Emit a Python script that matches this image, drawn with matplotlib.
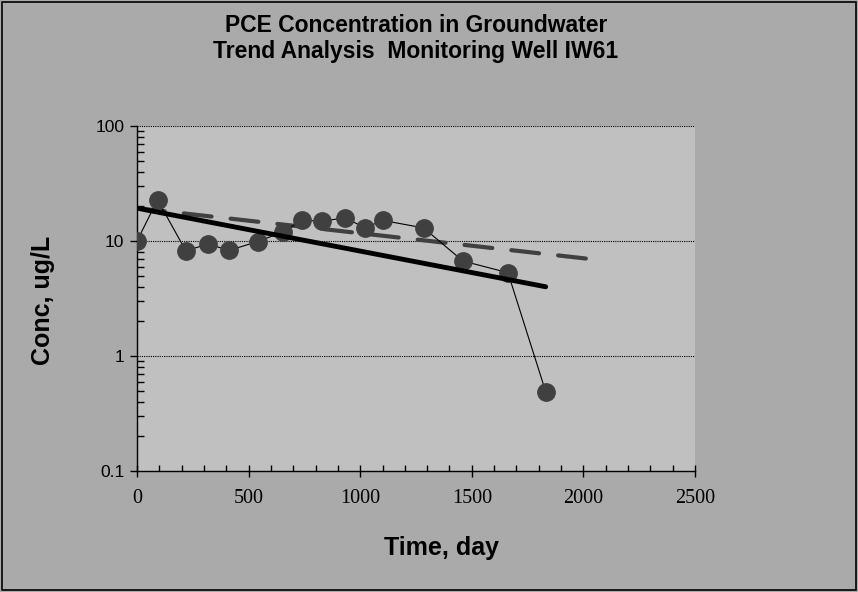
import numpy as np
import matplotlib
matplotlib.use("Agg")
import matplotlib.pyplot as plt
from matplotlib.ticker import FixedLocator, LogLocator, MultipleLocator, NullFormatter
from matplotlib.patches import Rectangle

# datos
dias = [0, 92, 219, 316, 414, 541, 655, 738, 830, 934, 1021, 1101, 1284, 1460, 1662, 1831]
conc = [10.0, 22.8, 8.2, 9.4, 8.3, 9.9, 12.0, 15.1, 14.9, 15.9, 13.0, 15.1, 13.0, 6.7, 5.3, 0.49]

# lineas de tendencia (extremos)
tend1_x = [0, 1831]
tend1_y = [19.3, 4.0]
tend2_x = [0, 2080]
tend2_y = [19.3, 6.8]

y_ticks = [0.1, 1, 10, 100]
y_labels = ["0.1", "1", "10", "100"]

fondo = "#aaaaaa"
area = "#c0c0c0"
W, H = 858, 592

fig = plt.figure(figsize=(W / 100, H / 100), dpi=100, facecolor=fondo)
ax = fig.add_axes([137/W, 1 - 471/H, (695 - 137)/W, (471 - 126)/H])
ax.set_facecolor(area)

# borde negro de la figura
fig.patches.append(Rectangle((2/W, 2/H), (W - 4)/W, (H - 4)/H, transform=fig.transFigure,
                             fill=False, edgecolor="black", linewidth=1.2))

ax.set_yscale("log")
ax.set_xlim(0, 2500)
ax.set_ylim(0.1, 100)

for v in [1, 10, 100]:
    ax.axhline(v, color="black", linestyle=(0, (1, 1)), linewidth=0.8, zorder=1)

ax.plot(dias, conc, color="black", linewidth=0.8, zorder=3)
ax.plot(dias, conc, linestyle="none", marker="o", markersize=12.5,
        markerfacecolor="#404040", markeredgecolor="#404040", zorder=4)
ax.plot(tend1_x, tend1_y, color="black", linewidth=3.5, solid_capstyle="round", zorder=5)
ax.plot(tend2_x, tend2_y, color="#404040", linewidth=3.0, dashes=(6.7, 4.6),
        dash_capstyle="round", zorder=2)

for s in ["top", "right"]:
    ax.spines[s].set_visible(False)
ax.spines["left"].set_linewidth(1.0)
ax.spines["bottom"].set_linewidth(1.0)

ax.xaxis.set_major_locator(MultipleLocator(500))
ax.xaxis.set_minor_locator(MultipleLocator(100))
ax.yaxis.set_major_locator(FixedLocator(y_ticks))
ax.set_yticklabels(y_labels)
ax.yaxis.set_minor_locator(LogLocator(base=10, subs=np.arange(2, 10)))
ax.yaxis.set_minor_formatter(NullFormatter())

ax.tick_params(axis="x", which="major", direction="inout", length=8, width=1.0, pad=9)
ax.tick_params(axis="x", which="minor", direction="in", length=4, width=1.0)
ax.tick_params(axis="y", which="major", direction="out", length=5, width=1.0, pad=4)
ax.tick_params(axis="y", which="minor", direction="in", length=5, width=1.0)

for t in ax.get_xticklabels():
    t.set_fontfamily("Liberation Serif")
    t.set_fontsize(14.5)
for t in ax.get_yticklabels():
    t.set_fontfamily("Liberation Sans")
    t.set_fontsize(12.5)

cx = (137 + 695) / 2 / W
fig.text(cx, 1 - 32/H, "PCE Concentration in Groundwater", ha="center", va="baseline",
         fontfamily="Liberation Sans", fontweight="bold", fontsize=16.5)
fig.text(cx, 1 - 58/H, "Trend Analysis  Monitoring Well IW61", ha="center", va="baseline",
         fontfamily="Liberation Sans", fontweight="bold", fontsize=16.5)
fig.text(441/W, 1 - 555/H, "Time, day", ha="center", va="baseline",
         fontfamily="Liberation Sans", fontweight="bold", fontsize=18)
fig.text(50/W, 1 - 300/H, "Conc, ug/L", ha="center", va="baseline", rotation=90,
         rotation_mode="anchor", fontfamily="Liberation Sans", fontweight="bold", fontsize=18)

fig.savefig("out.png", dpi=100, facecolor=fondo)
